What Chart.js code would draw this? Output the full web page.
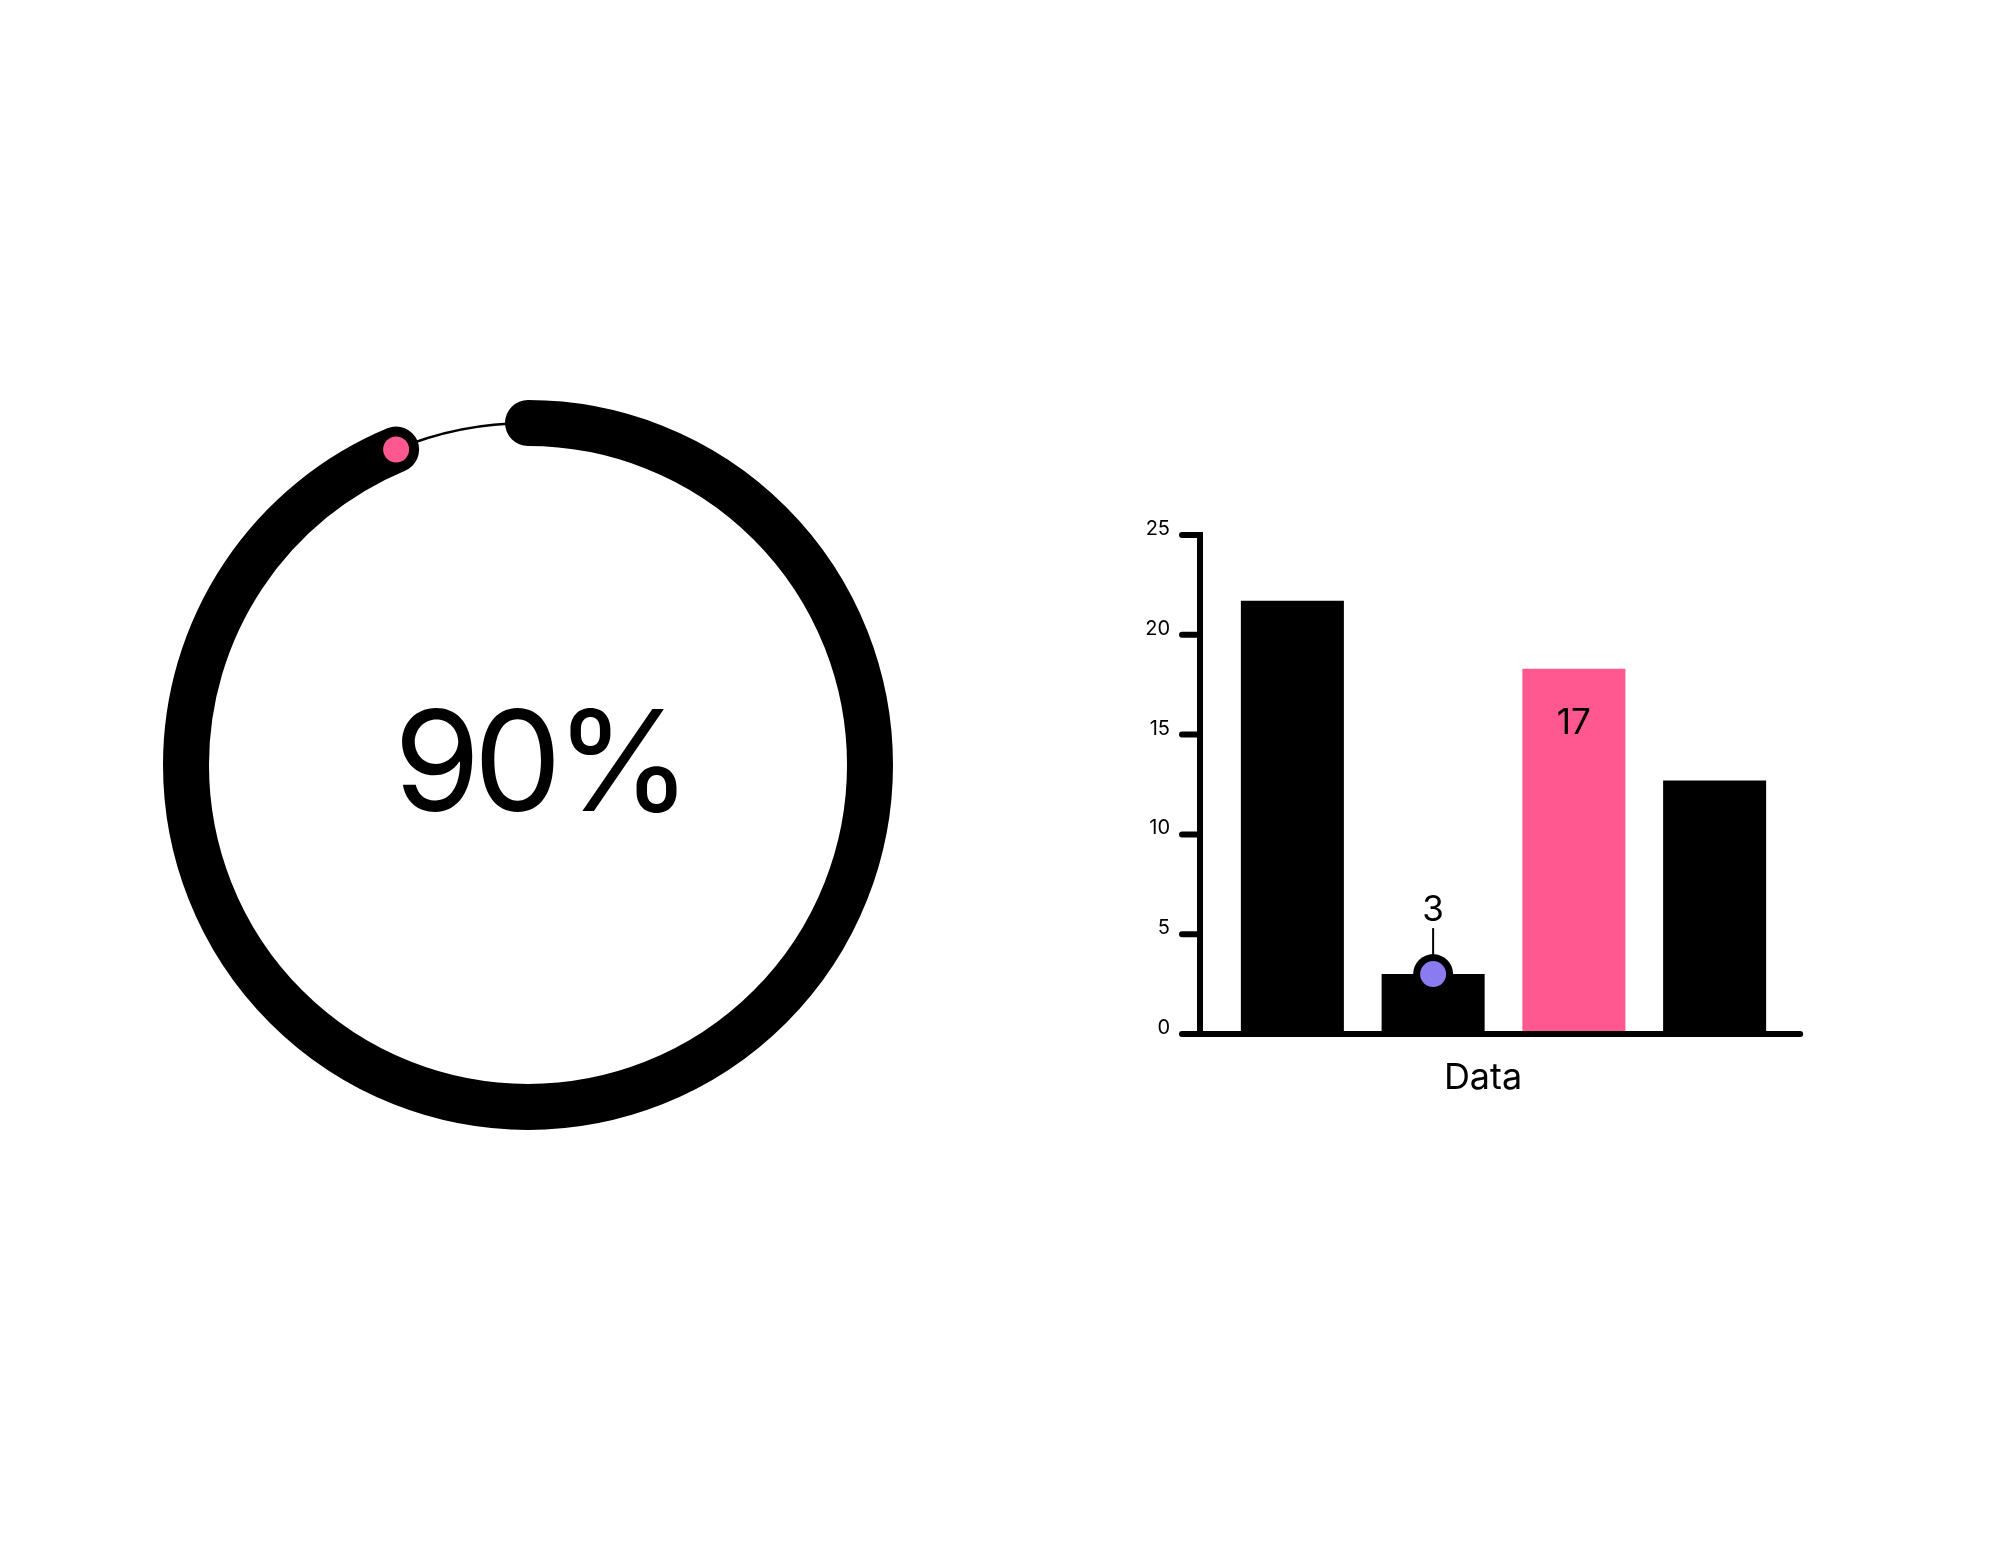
<!DOCTYPE html>
<html>
<head>
<meta charset="utf-8">
<script src="https://cdn.jsdelivr.net/npm/chart.js@4.4.1/dist/chart.umd.min.js"></script>
<style>
  html, body { margin: 0; padding: 0; background: #fff; }
  body { width: 1991px; height: 1558px; position: relative; overflow: hidden; }
  #ring { position: absolute; left: 163px; top: 400px; width: 730px; height: 730px; }
  #bars { position: absolute; left: 1100px; top: 480px; width: 760px; height: 650px; }
</style>
</head>
<body>
<canvas id="ring" width="730" height="730"></canvas>
<canvas id="bars" width="760" height="650"></canvas>
<script>
// ring: share of the circle covered by the thick arc, and the remainder
const progressLabel = '90%';
const progressValues = [93.7, 6.3];

// bar chart
const barCategories = ['A', 'B', 'C', 'D'];
const barValues = [21.7, 3, 18.3, 12.7];
const barLabels = [null, '3', '17', null];
const barColors = ['#000000', '#000000', '#ff5790', '#000000'];
const yTicks = [0, 5, 10, 15, 20, 25];
const axisTitle = 'Data';

const PINK = '#ff5790';
const PURPLE = '#8a7cf0';

const ringPlugin = {
  id: 'ringDraw',
  afterDatasetsDraw(chart) {
    const ctx = chart.ctx;
    const arcs = chart.getDatasetMeta(0).data;
    const main = arcs[0], rest = arcs[1];
    const r = (main.innerRadius + main.outerRadius) / 2;
    const w = main.outerRadius - main.innerRadius;
    ctx.save();
    ctx.strokeStyle = '#000';
    // thin remainder
    ctx.lineWidth = 2.5;
    ctx.beginPath();
    ctx.arc(rest.x, rest.y, r, rest.startAngle, rest.endAngle);
    ctx.stroke();
    // thick progress arc with round caps
    ctx.lineWidth = w;
    ctx.lineCap = 'round';
    ctx.beginPath();
    ctx.arc(main.x, main.y, r, main.startAngle, main.endAngle);
    ctx.stroke();
    // pink marker at the end
    const a = main.endAngle;
    ctx.fillStyle = PINK;
    ctx.beginPath();
    ctx.arc(main.x + r * Math.cos(a), main.y + r * Math.sin(a), 13, 0, Math.PI * 2);
    ctx.fill();
    // centre label
    ctx.fillStyle = '#000';
    ctx.font = '400 140px Inter';
    ctx.letterSpacing = '-7px';
    ctx.textAlign = 'left';
    ctx.textBaseline = 'alphabetic';
    const tw = ctx.measureText(progressLabel).width + 7;
    ctx.fillText(progressLabel, main.x + 15 - tw / 2, main.y + 46);
    ctx.restore();
  }
};

new Chart(document.getElementById('ring'), {
  type: 'doughnut',
  data: {
    datasets: [{
      data: progressValues,
      backgroundColor: ['rgba(0,0,0,0)', 'rgba(0,0,0,0)'],
      borderWidth: 0
    }]
  },
  options: {
    responsive: false,
    animation: false,
    cutout: '87.4%',
    layout: { padding: 0 },
    plugins: { legend: { display: false }, tooltip: { enabled: false } }
  },
  plugins: [ringPlugin]
});

const axesPlugin = {
  id: 'axesDraw',
  afterDatasetsDraw(chart) {
    const { ctx, chartArea, scales: { y } } = chart;
    const bars = chart.getDatasetMeta(0).data;
    const ax = chartArea.left - 22;
    const y0 = y.getPixelForValue(0);
    const yTop = y.getPixelForValue(yTicks[yTicks.length - 1]);
    const last = bars[bars.length - 1];
    ctx.save();
    ctx.strokeStyle = '#000';
    ctx.lineWidth = 6;
    ctx.beginPath();
    ctx.moveTo(ax, yTop - 3);
    ctx.lineTo(ax, y0);
    ctx.stroke();
    ctx.lineCap = 'round';
    yTicks.forEach(v => {
      const py = y.getPixelForValue(v);
      ctx.beginPath();
      ctx.moveTo(ax - 18, py);
      ctx.lineTo(ax, py);
      ctx.stroke();
    });
    ctx.beginPath();
    ctx.moveTo(ax, y0);
    ctx.lineTo(last.x + last.width / 2 + 34, y0);
    ctx.stroke();

    // value call-outs
    ctx.textAlign = 'center';
    ctx.textBaseline = 'middle';
    ctx.font = '35px Inter';
    bars.forEach((bar, i) => {
      const text = barLabels[i];
      if (!text) return;
      if (barValues[i] < 8) {
        ctx.strokeStyle = '#000';
        ctx.lineWidth = 2;
        ctx.lineCap = 'butt';
        ctx.beginPath();
        ctx.moveTo(bar.x, bar.y - 46);
        ctx.lineTo(bar.x, bar.y - 18);
        ctx.stroke();
        ctx.fillStyle = '#000';
        ctx.beginPath();
        ctx.arc(bar.x, bar.y, 20, 0, Math.PI * 2);
        ctx.fill();
        ctx.fillStyle = PURPLE;
        ctx.beginPath();
        ctx.arc(bar.x, bar.y, 13, 0, Math.PI * 2);
        ctx.fill();
        ctx.fillStyle = '#000';
        ctx.fillText(text, bar.x, bar.y - 64);
      } else {
        ctx.fillStyle = '#000';
        ctx.fillText(text, bar.x, bar.y + 55);
      }
    });

    // axis title
    ctx.font = '36px Inter';
    ctx.fillStyle = '#000';
    ctx.fillText(axisTitle, (ax + last.x + last.width / 2) / 2, y0 + 44);
    ctx.restore();
  }
};

new Chart(document.getElementById('bars'), {
  type: 'bar',
  data: {
    labels: barCategories,
    datasets: [{
      data: barValues,
      backgroundColor: barColors,
      borderWidth: 0,
      barPercentage: 0.732,
      categoryPercentage: 1
    }]
  },
  options: {
    responsive: false,
    animation: false,
    layout: { padding: { left: 0, right: 75, top: 55, bottom: 96 } },
    plugins: { legend: { display: false }, tooltip: { enabled: false } },
    scales: {
      x: { display: false },
      y: {
        min: 0,
        max: 25,
        afterFit: s => { s.width = 122; },
        afterBuildTicks: s => { s.ticks = yTicks.map(v => ({ value: v })); },
        // tick marks and axis line are drawn by axesPlugin; this grid only reserves the tick length
        grid: { display: true, drawOnChartArea: false, drawTicks: true, tickLength: 42, color: 'rgba(0,0,0,0)' },
        border: { display: false },
        ticks: { padding: 10, labelOffset: -6, color: '#000', font: { family: 'Inter', size: 20 } }
      }
    }
  },
  plugins: [axesPlugin]
});
</script>
</body>
</html>
